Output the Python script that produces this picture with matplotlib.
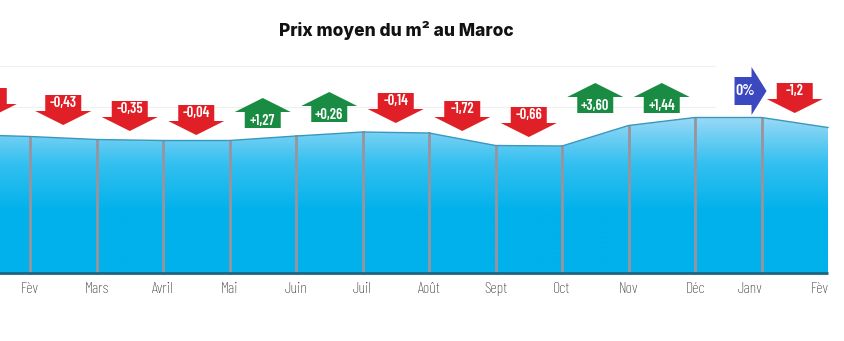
import numpy as np
import matplotlib
matplotlib.use("Agg")
from matplotlib import pyplot as plt
from matplotlib.patches import Polygon
from matplotlib.colors import LinearSegmentedColormap

# niveau relatif du prix moyen (pas d'axe y sur le graphique d'origine)
mois = ["Fèv", "Mars", "Avril", "Mai", "Juin", "Juil", "Août", "Sept",
        "Oct", "Nov", "Déc", "Janv", "Fèv"]
niveau_prec = 138.5  # mois précédent, hors cadre à gauche
niveau = [136.5, 133.5, 132.5, 132.5, 137, 141, 140, 127.5,
          127, 147.5, 155.5, 155.5, 145.5]
variations = ["-0,17", "-0,43", "-0,35", "-0,04", "+1,27", "+0,26", "-0,14",
              "-1,72", "-0,66", "+3,60", "+1,44", "0%", "-1,2"]

# placement des flèches (bas de la flèche, en unités de niveau)
arrow_base = [155, 148, 142, 138, 145, 151, 150, 142, 136, 160, 160, 158, 160]

narrow = ["Barlow Condensed", "Archivo Narrow", "Roboto Condensed", "DejaVu Sans"]

W, H = 845, 341
fig = plt.figure(figsize=(W / 100, H / 100), dpi=100)
ax = fig.add_axes([0, 0, 1, 1])
step = 66.5
x0 = 30
ax.set_xlim(-x0 / step, (W - x0) / step)
ax.set_ylim(273 - H, 273)
ax.axis("off")

px = (W / step) / W  # one pixel in x data units

x = np.arange(len(niveau))
xs = np.concatenate([[-1], x])
ys = np.concatenate([[niveau_prec], niveau])

# gradient fill under the curve
cmap = LinearSegmentedColormap.from_list("bleu", ["#00b1eb", "#35c0f0", "#a2dbf6"])
grad = np.linspace(0, 1, 256).reshape(-1, 1)
grad = np.clip((grad - 0.38) / 0.62, 0, 1)
im = ax.imshow(grad, cmap=cmap, aspect="auto", origin="lower",
               extent=[-1, x[-1], 0, 160], zorder=1)
poly = Polygon(np.column_stack([np.concatenate([xs, [x[-1], -1]]),
                                np.concatenate([ys, [0, 0]])]),
               closed=True, facecolor="none", edgecolor="none")
ax.add_patch(poly)
im.set_clip_path(poly)

ax.plot(xs, ys, color="#3b98bd", lw=1.0, zorder=3)
ax.plot([-1, x[-1]], [0, 0], color="#1d6683", lw=2, zorder=3,
        solid_capstyle="butt")

for xi, yi in zip(x[:-1], niveau[:-1]):
    ax.plot([xi, xi], [0, yi], color="#9b939c", lw=2, zorder=2)

# faint grid lines
for yg in [207, 166]:
    ax.plot([-1, 10.3], [yg, yg], color="#f0f0f0", lw=0.8, zorder=0)

# arrows
rouge, vert, bleu = "#e01f26", "#1a8b43", "#3b48c0"
bw, hw = 36 * px, 56 * px
bh, hh = 16, 14
xm = np.concatenate([[-0.62], (x[:-1] + x[1:]) / 2])
xm[-2] = 10.85
for xc, txt, base in zip(xm, variations, arrow_base):
    fs = 10.5
    if txt.startswith("-"):
        pts = [(xc, base), (xc - hw / 2, base + hh), (xc - bw / 2, base + hh),
               (xc - bw / 2, base + hh + bh), (xc + bw / 2, base + hh + bh),
               (xc + bw / 2, base + hh), (xc + hw / 2, base + hh)]
        ty = base + hh + bh / 2
        col = rouge
    elif txt.startswith("+"):
        pts = [(xc - bw / 2, base), (xc + bw / 2, base), (xc + bw / 2, base + bh),
               (xc + hw / 2, base + bh), (xc, base + bh + hh),
               (xc - hw / 2, base + bh), (xc - bw / 2, base + bh)]
        ty = base + bh / 2 - 1
        col = vert
    else:
        b = 17 * px
        h = 15 * px
        cy = base + 24
        pts = [(xc - b, cy - 14), (xc, cy - 14), (xc, cy - 24), (xc + h, cy),
               (xc, cy + 24), (xc, cy + 14), (xc - b, cy + 14)]
        ty = cy
        xc = xc - b / 2 + 2 * px
        col = bleu
        fs = 11.5
    ax.add_patch(Polygon(pts, closed=True, facecolor=col, edgecolor="none",
                         zorder=5))
    ax.text(xc, ty, txt, color="white", ha="center", va="center",
            fontsize=fs, fontweight="semibold", zorder=6, family=narrow)

# month labels
lab_x = list(x[:-2]) + [11 - 12 * px, 12 - 8 * px]
for xi, m in zip(lab_x, mois):
    ax.text(xi, -16, m, ha="center", va="center", fontsize=11.5,
            fontweight="light", color="#222222", family=narrow)

fig.text(396 / W, 1 - 30 / H, "Prix moyen du m² au Maroc", ha="center",
         va="center", fontsize=12.5, fontweight=800, family="Inter",
         color="#111111")

fig.savefig("out.png", dpi=100)
